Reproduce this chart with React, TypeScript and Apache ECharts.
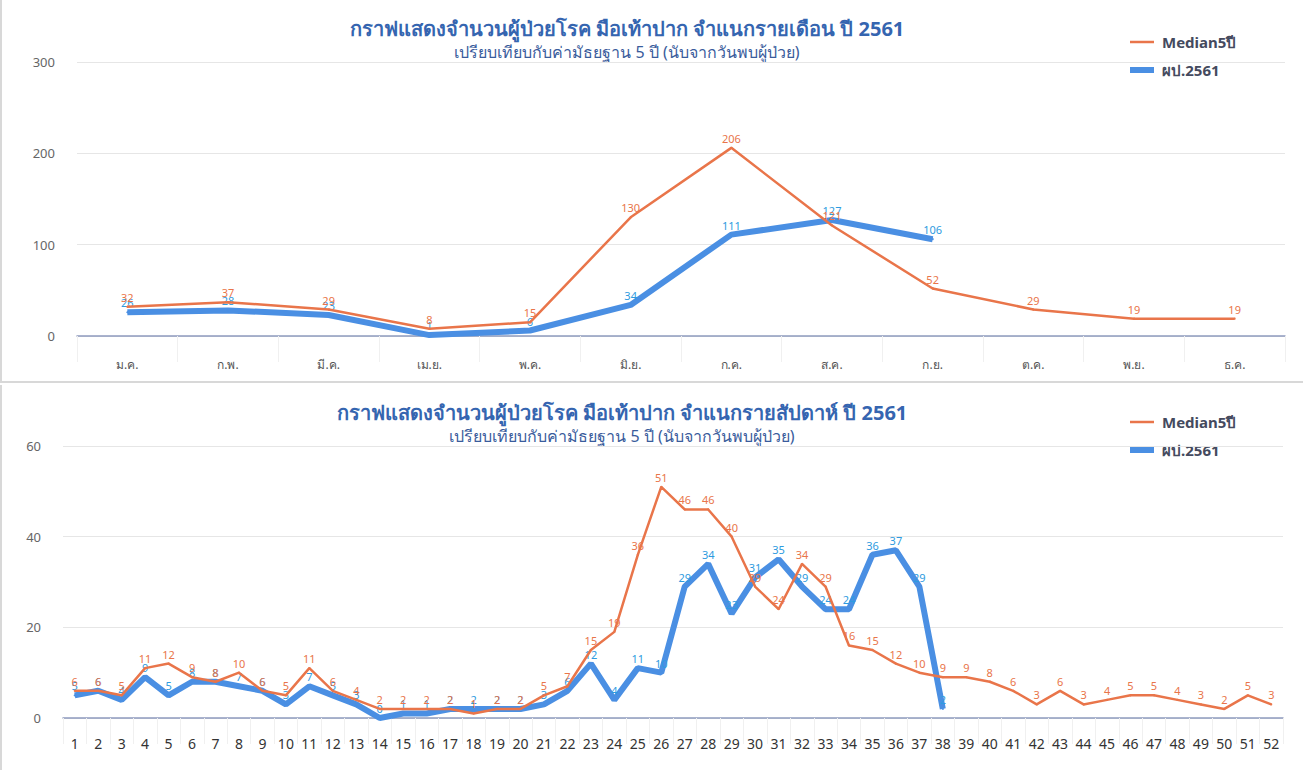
import React, { useEffect, useRef } from "react";
import * as echarts from "echarts";

const months = ["ม.ค.", "ก.พ.", "มี.ค.", "เม.ย.", "พ.ค.", "มิ.ย.", "ก.ค.", "ส.ค.", "ก.ย.", "ต.ค.", "พ.ย.", "ธ.ค."];
const monthMedian = [32, 37, 29, 8, 15, 130, 206, 121, 52, 29, 19, 19];
const monthPatients = [26, 28, 23, 1, 6, 34, 111, 127, 106];

const weeks = Array.from({ length: 52 }, (_, i) => String(i + 1));
const weekMedian = [
  6, 6, 5, 11, 12, 9, 8, 10, 6, 5, 11, 6, 4, 2, 2, 2, 2, 1, 2, 2,
  5, 7, 15, 19, 36, 51, 46, 46, 40, 29, 24, 34, 29, 16, 15, 12, 10, 9, 9, 8,
  6, 3, 6, 3, 4, 5, 5, 4, 3, 2, 5, 3,
];
const weekPatients = [
  5, 6, 4, 9, 5, 8, 8, 7, 6, 3, 7, 5, 3, 0, 1, 1, 2, 2, 2, 2,
  3, 6, 12, 4, 11, 10, 29, 34, 23, 31, 35, 29, 24, 24, 36, 37, 29, 2,
];

const titleTop = "กราฟแสดงจำนวนผู้ป่วยโรค มือเท้าปาก จำแนกรายเดือน ปี 2561";
const titleBottom = "กราฟแสดงจำนวนผู้ป่วยโรค มือเท้าปาก จำแนกรายสัปดาห์ ปี 2561";
const subtitle = "เปรียบเทียบกับค่ามัธยฐาน 5 ปี (นับจากวันพบผู้ป่วย)";
const legendNames = ["Median5ปี", "ผป.2561"];

const ORANGE = "#E9754A";
const BLUE = "#4A8FE3";
const BLUE_LABEL = "#2E9BE0";
const FONT = "'Noto Sans', 'DejaVu Sans', sans-serif";

function buildOption(cfg: {
  cats: string[];
  median: number[];
  patients: number[];
  max: number;
  interval: number;
  grid: any;
  title: string;
  titleX: number;
  titleY: number;
  legendX: number;
  legendY: number;
  xLabelSize: number;
  xLabelMargin: number;
  xLabelColor: string;
}) {
  const labelBase = { show: true, position: "top", distance: 3, fontSize: 11, fontFamily: FONT };
  return {
    animation: false,
    textStyle: { fontFamily: FONT },
    grid: cfg.grid,
    xAxis: {
      type: "category",
      data: cfg.cats,
      boundaryGap: true,
      axisLine: { lineStyle: { color: "#8E9BBE", width: 1.5 } },
      axisTick: { show: true, length: 26, lineStyle: { color: "#F0F0F0" } },
      axisLabel: { fontSize: cfg.xLabelSize, color: cfg.xLabelColor, margin: cfg.xLabelMargin, interval: 0, fontFamily: FONT },
    },
    yAxis: {
      type: "value",
      min: 0,
      max: cfg.max,
      interval: cfg.interval,
      axisLine: { show: false },
      axisTick: { show: false },
      axisLabel: { fontSize: 13, color: "#666", margin: 22, fontFamily: FONT },
      splitLine: { lineStyle: { color: "#E6E6E6" } },
    },
    series: [
      {
        name: legendNames[0],
        type: "line",
        data: cfg.median,
        symbol: "circle",
        symbolSize: 2,
        showAllSymbol: true,
        lineStyle: { color: ORANGE, width: 2.5 },
        itemStyle: { color: ORANGE },
        label: { ...labelBase, color: ORANGE },
        labelLayout: { hideOverlap: false },
        z: 3,
      },
      {
        name: legendNames[1],
        type: "line",
        data: cfg.patients,
        symbol: "circle",
        symbolSize: 2,
        showAllSymbol: true,
        lineStyle: { color: BLUE, width: 6 },
        itemStyle: { color: BLUE },
        label: { ...labelBase, color: BLUE_LABEL },
        labelLayout: { hideOverlap: false },
        z: 2,
      },
    ],
    graphic: [
      {
        type: "text",
        x: cfg.titleX,
        y: cfg.titleY,
        style: { text: cfg.title, fill: "#3565B0", font: `bold 20px ${FONT}`, textAlign: "center", textVerticalAlign: "middle" },
      },
      {
        type: "text",
        x: cfg.titleX,
        y: cfg.titleY + 24,
        style: { text: subtitle, fill: "#3A5C9C", font: `16px ${FONT}`, textAlign: "center", textVerticalAlign: "middle" },
      },
      {
        type: "line",
        shape: { x1: cfg.legendX, y1: cfg.legendY, x2: cfg.legendX + 24, y2: cfg.legendY },
        style: { stroke: ORANGE, lineWidth: 2.5 },
      },
      {
        type: "text",
        x: cfg.legendX + 32,
        y: cfg.legendY,
        style: { text: legendNames[0], fill: "#444A5E", font: `bold 15px ${FONT}`, textVerticalAlign: "middle" },
      },
      {
        type: "line",
        shape: { x1: cfg.legendX, y1: cfg.legendY + 28, x2: cfg.legendX + 24, y2: cfg.legendY + 28 },
        style: { stroke: BLUE, lineWidth: 6 },
      },
      {
        type: "text",
        x: cfg.legendX + 32,
        y: cfg.legendY + 28,
        style: { text: legendNames[1], fill: "#444A5E", font: `bold 15px ${FONT}`, textVerticalAlign: "middle" },
      },
    ],
  };
}

function Chart({ option, style }: { option: any; style: React.CSSProperties }) {
  const ref = useRef<HTMLDivElement>(null);
  useEffect(() => {
    if (!ref.current) return;
    const chart = echarts.init(ref.current, undefined, { renderer: "svg" });
    chart.setOption(option);
    return () => chart.dispose();
  }, [option]);
  return <div ref={ref} style={style} />;
}

const topOption = buildOption({
  cats: months,
  median: monthMedian,
  patients: monthPatients,
  max: 300,
  interval: 100,
  grid: { left: 75, right: 18, top: 62, bottom: 45 },
  title: titleTop,
  titleX: 625,
  titleY: 28,
  legendX: 1128,
  legendY: 42,
  xLabelSize: 12,
  xLabelColor: "#555",
  xLabelMargin: 22,
});

const bottomOption = buildOption({
  cats: weeks,
  median: weekMedian,
  patients: weekPatients,
  max: 60,
  interval: 20,
  grid: { left: 61, right: 20, top: 61, bottom: 52 },
  title: titleBottom,
  titleX: 620,
  titleY: 27,
  legendX: 1128,
  legendY: 37,
  xLabelSize: 14,
  xLabelColor: "#333",
  xLabelMargin: 18,
});

export default function App() {
  return (
    <div style={{ position: "absolute", left: 0, top: 0, width: 1303, height: 770, background: "#fff" }}>
      <Chart
        option={topOption}
        style={{ position: "absolute", left: 0, top: 0, width: 1303, height: 383, boxSizing: "border-box", borderBottom: "2px solid #D8D8D8", borderLeft: "2px solid #D8D8D8" }}
      />
      <Chart
        option={bottomOption}
        style={{ position: "absolute", left: 0, top: 385, width: 1303, height: 385, boxSizing: "border-box", borderLeft: "2px solid #D8D8D8" }}
      />
    </div>
  );
}
